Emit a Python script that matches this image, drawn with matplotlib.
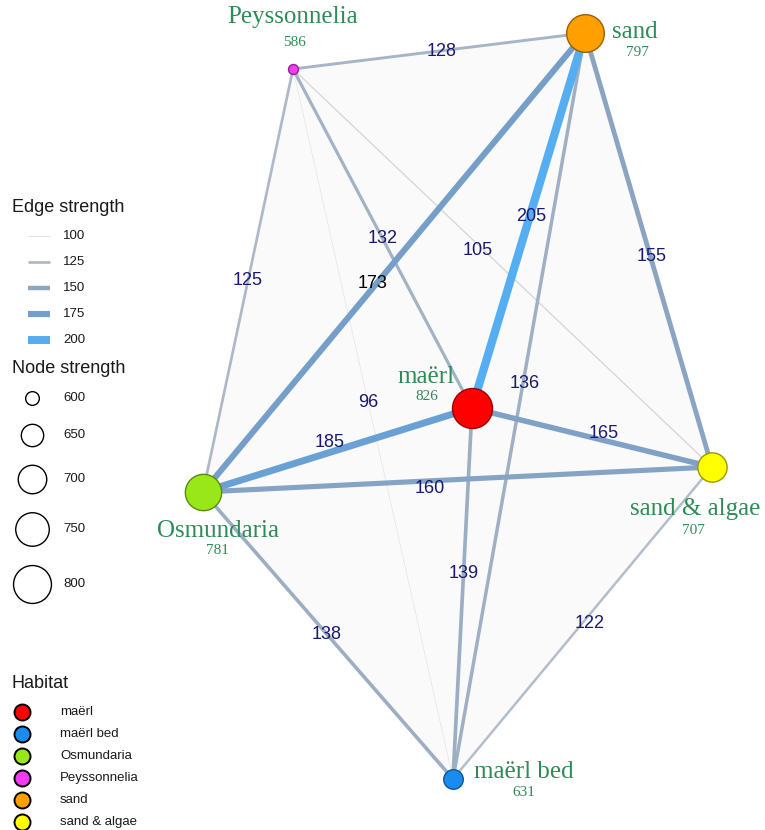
import matplotlib
matplotlib.use("Agg")
import matplotlib.pyplot as plt
import numpy as np
from matplotlib.colors import LinearSegmentedColormap, Normalize, to_rgb
from matplotlib.patches import Polygon

# ---- data -------------------------------------------------------------
habitats = ["maërl", "maërl bed", "Osmundaria", "Peyssonnelia", "sand", "sand & algae"]
habitat_colors = ["#FF0000", "#1A8CF0", "#99E619", "#F03CF0", "#FFA000", "#FFFF00"]
node_strength = [826, 631, 781, 586, 797, 707]

edge_from = ["Peyssonnelia", "Peyssonnelia", "Peyssonnelia", "Peyssonnelia", "Peyssonnelia",
             "sand", "sand", "sand", "sand",
             "maërl", "maërl", "maërl",
             "Osmundaria", "Osmundaria", "sand & algae"]
edge_to = ["sand", "Osmundaria", "maërl", "sand & algae", "maërl bed",
           "maërl", "Osmundaria", "sand & algae", "maërl bed",
           "Osmundaria", "sand & algae", "maërl bed",
           "sand & algae", "maërl bed", "maërl bed"]
edge_strength = [128, 125, 132, 105, 96,
                 205, 173, 155, 136,
                 185, 165, 139,
                 160, 138, 122]

edge_legend_values = [100, 125, 150, 175, 200]
node_legend_values = [600, 650, 700, 750, 800]

# ---- layout (canvas pixels, y downwards) ------------------------------
node_xy = {
    "maërl": (472, 408),
    "maërl bed": (453, 779),
    "Osmundaria": (203, 492),
    "Peyssonnelia": (293, 69),
    "sand": (585, 33),
    "sand & algae": (712, 467),
}
# name / value label anchors for each node
node_label = {
    "maërl": ((426, 377), (427, 396)),
    "maërl bed": ((524, 772), (524, 792)),
    "Osmundaria": ((218, 531), (217, 550)),
    "Peyssonnelia": ((293, 17), (295, 42)),
    "sand": ((635, 32), (637, 52)),
    "sand & algae": ((695, 509), (693, 530)),
}
# position of each edge label along its edge, plus a small nudge
edge_label_pos = [(0.51, 0, 1), (0.50, 0, 0), (0.50, 0, 0), (0.44, 0, 6), (0.47, 0, 0),
                  (0.49, 2, 0), (0.545, -4, 0), (0.51, 2, 2), (0.47, 2, 0),
                  (0.53, 0, -10), (0.55, 0, -7), (0.445, 0, 0),
                  (0.446, 0, 8), (0.495, 0, 0), (0.50, 7, 0)]

W, H, DPI = 765, 830, 100
fig = plt.figure(figsize=(W / DPI, H / DPI), dpi=DPI)
ax = fig.add_axes([0, 0, 1, 1])
ax.set_xlim(0, W)
ax.set_ylim(H, 0)
ax.axis("off")

PX2PT = 72.0 / DPI

# edge colour / width scales
edge_cmap = LinearSegmentedColormap.from_list(
    "edge", [(0.0, "#e4e4e4"), (0.14, "#c9ced6"), (0.29, "#a9b6c6"),
             (0.52, "#8ea5c0"), (0.76, "#6f9dcc"), (1.0, "#56aef2")])
edge_norm = Normalize(vmin=95, vmax=205)


def edge_width_px(v):
    return 0.6 + (v - 95) * 0.07


def node_radius_px(v):
    return np.sqrt(25 + 1.5625 * (v - 586))


def darker(c, f=0.6):
    r, g, b = to_rgb(c)
    return (r * f, g * f, b * f)


color_of = dict(zip(habitats, habitat_colors))
strength_of = dict(zip(habitats, node_strength))

# faint hull behind the network
hull = ["Peyssonnelia", "sand", "sand & algae", "maërl bed", "Osmundaria"]
ax.add_patch(Polygon([node_xy[n] for n in hull], closed=True,
                     facecolor="#fafafa", edgecolor="none", zorder=0))

# edges, weakest first
order = np.argsort(edge_strength)
for i in order:
    a, b, v = edge_from[i], edge_to[i], edge_strength[i]
    (x0, y0), (x1, y1) = node_xy[a], node_xy[b]
    ax.plot([x0, x1], [y0, y1], color=edge_cmap(edge_norm(v)),
            lw=edge_width_px(v) * PX2PT, solid_capstyle="butt", zorder=1 + v / 1000)

# edge labels
for i, v in enumerate(edge_strength):
    (x0, y0), (x1, y1) = node_xy[edge_from[i]], node_xy[edge_to[i]]
    t, dx, dy = edge_label_pos[i]
    x = x0 + t * (x1 - x0) + dx
    y = y0 + t * (y1 - y0) + dy
    col = "black" if v == 173 else "#191970"
    ax.text(x, y, str(v), color=col, fontsize=13, family="Liberation Sans",
            ha="center", va="center", zorder=3)

# nodes
for n in habitats:
    x, y = node_xy[n]
    r = node_radius_px(strength_of[n])
    ax.scatter([x], [y], s=(2 * r * PX2PT) ** 2, color=color_of[n],
               edgecolors=[darker(color_of[n])], linewidths=1.0, zorder=4)
    (nx, ny), (vx, vy) = node_label[n]
    ax.text(nx, ny, n, color="#2E8B57", fontsize=18, family="Liberation Serif",
            ha="center", va="center", zorder=5)
    ax.text(vx, vy, str(strength_of[n]), color="#2E8B57", fontsize=11,
            family="Liberation Serif", ha="center", va="center", zorder=5)

# ---- legends ------------------------------------------------------------
title_kw = dict(fontsize=13, family="Liberation Sans", color="#1a1a1a", va="center", ha="left")
lab_kw = dict(fontsize=9.5, family="Liberation Sans", color="#1a1a1a", va="center", ha="left")

# edge strength
ax.text(12, 207, "Edge strength", **title_kw)
for k, v in enumerate(edge_legend_values):
    y = 236 + k * 26
    ax.plot([28, 50], [y, y], color=edge_cmap(edge_norm(v)),
            lw=edge_width_px(v) * PX2PT, solid_capstyle="butt")
    ax.text(63, y, str(v), **lab_kw)

# node strength
ax.text(12, 368, "Node strength", **title_kw)
node_leg_y = [398, 435, 479, 529, 584]
for v, y in zip(node_legend_values, node_leg_y):
    r = node_radius_px(v)
    ax.scatter([32], [y], s=(2 * r * PX2PT) ** 2, facecolor="white",
               edgecolors="black", linewidths=1.0)
    ax.text(63, y, str(v), **lab_kw)

# habitat
ax.text(12, 683, "Habitat", **title_kw)
for k, (h, c) in enumerate(zip(habitats, habitat_colors)):
    y = 712 + k * 22
    ax.scatter([22], [y], s=(2 * 8 * PX2PT) ** 2, color=c,
               edgecolors="black", linewidths=1.4)
    ax.text(60, y, h, **lab_kw)

fig.savefig("out.png", dpi=DPI)
